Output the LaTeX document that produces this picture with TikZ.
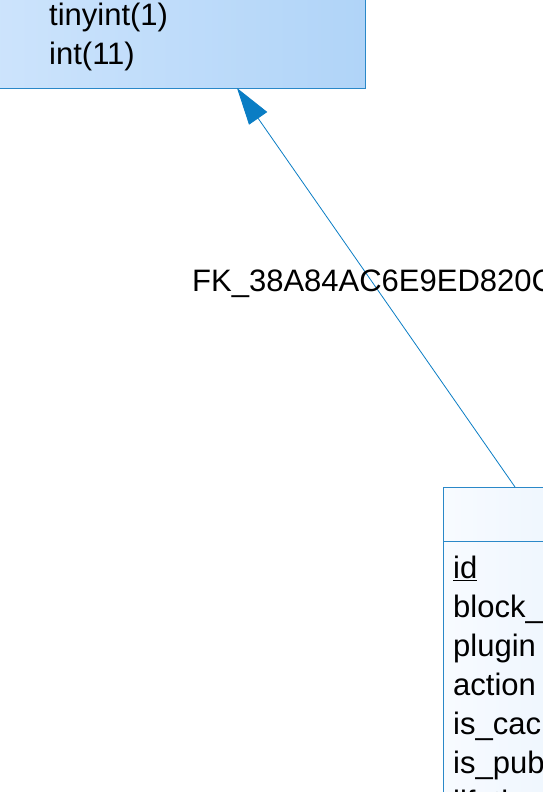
\documentclass[tikz,border=0pt]{standalone}
\usepackage{fontspec}
\setmainfont{Liberation Sans}
\usetikzlibrary{arrows.meta}

\definecolor{tblline}{HTML}{2A88C8}
\definecolor{fkline}{HTML}{1A80C2}
\definecolor{fkhead}{HTML}{0A7DC4}
\definecolor{pfillA}{HTML}{DCECFE}
\definecolor{pfillB}{HTML}{B0D4F8}
\definecolor{cfillA}{HTML}{F8FBFF}
\definecolor{cfillB}{HTML}{D6E9FC}

\tikzset{
    tbl/.style={draw=tblline, line width=1pt, rectangle, inner sep=0pt},
    field/.style={anchor=base west, inner sep=0pt, font=\fontsize{31}{39}\selectfont},
    fk/.style={draw=fkline, line width=0.8pt, -{Triangle[length=37pt,width=22pt]}, fkhead}
}

\begin{document}
\begin{tikzpicture}[x=1pt,y=-1pt]

    \useasboundingbox (0,0) rectangle (543,792);
    \clip (0,0) rectangle (543,792);

    % parent table (top left)
    \node[tbl, left color=pfillA, right color=pfillB, minimum width=565pt, minimum height=288pt] (parent) at (82.5,-56) {};
    \node[field] (f1) at (49,26) {tinyint(1)};
    \node[field] (f2) at (49,64) {int(11)};

    % child table (bottom right)
    \node[tbl, left color=cfillA, right color=cfillB, minimum width=400pt, minimum height=600pt] (child) at (643,787) {};
    \draw[tblline, line width=1pt] (443,541) -- (543,541);
    \node[field] (c1) at (453,578) {\underline{id}};
    \node[field] (c2) at (453,617) {block\_id};
    \node[field] (c3) at (453,656) {plugin};
    \node[field] (c4) at (453,695) {action};
    \node[field] (c5) at (453,734) {is\_cached};
    \node[field] (c6) at (453,773) {is\_published};
    \node[field] (c7) at (453,812) {lifetime};

    % foreign key
    \coordinate (fkfrom) at (515,487);
    \coordinate (fkto) at (237,88);
    \draw[fk] (fkfrom) -- (fkto);
    \node[field] (fkname) at (192,291) {FK\_38A84AC6E9ED820C};

\end{tikzpicture}
\end{document}
